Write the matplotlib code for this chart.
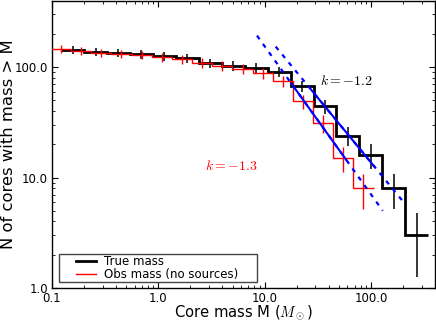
import numpy as np
import matplotlib
matplotlib.use("Agg")
import matplotlib.pyplot as plt
from matplotlib.ticker import FormatStrFormatter, LogLocator
from matplotlib.lines import Line2D
from matplotlib.legend_handler import HandlerLine2D

plt.rcParams['mathtext.fontset'] = 'cm'

# true core masses: bin centres (Msun) and number of cores above
true_m = [0.156, 0.257, 0.422, 0.694, 1.14, 1.88, 3.08, 5.06,
          8.32, 13.7, 22.5, 36.9, 60.7, 99.7, 164, 269]
true_n = [142, 137, 134, 130, 125, 120, 108, 103, 98, 90, 67, 44, 24, 16, 8, 3]

# observed masses (no sources)
obs_m = [0.122, 0.188, 0.291, 0.450, 0.697, 1.08, 1.67, 2.58,
         4.00, 6.19, 9.58, 14.8, 22.9, 35.5, 54.9, 85.0]
obs_n = [145, 140, 135, 132, 129, 123, 117, 109, 103, 96, 88, 75, 49, 31, 15, 8]

# power law fits  N = n_lo * (M / fit_lo)**k   (true, obs)
fit_k = [-1.17, -1.34]
fit_n_lo = [61.7, 70.6]
fit_lo = [27.6, 17.9]
fit_hi = [108.0, 58.9]
ext_lo = [12.7, 8.47]
ext_hi = [206.0, 129.0]
fit_text = ['$k=-1.2$', '$k=-1.3$']
text_pos = [(33.3, 75.0), (2.73, 12.7)]
text_col = ['k', 'red']


def edges(m):
    lm = np.log10(m)
    mid = (lm[1:] + lm[:-1]) / 2
    e = np.concatenate([[2 * lm[0] - mid[0]], mid, [2 * lm[-1] - mid[-1]]])
    return 10 ** e


fig = plt.figure(figsize=(4.36, 3.22), dpi=100)
ax = fig.add_axes([52 / 436, 34 / 322, 383 / 436, 287.5 / 322])

ax.stairs(true_n, edges(np.array(true_m)), baseline=None, color='k', lw=2.0, zorder=2)
ax.errorbar(true_m, true_n, yerr=np.sqrt(true_n), fmt='none', ecolor='k',
            elinewidth=1.1, capsize=0, zorder=2)
ax.stairs(obs_n, edges(np.array(obs_m)), baseline=None, color='red', lw=1.0, zorder=3)
ax.errorbar(obs_m, obs_n, yerr=np.sqrt(obs_n), fmt='none', ecolor='red',
            elinewidth=1.0, capsize=0, zorder=3)

for k, n0, lo, hi, elo, ehi in zip(fit_k, fit_n_lo, fit_lo, fit_hi, ext_lo, ext_hi):
    xs = np.array([lo, hi])
    ax.plot(xs, n0 * (xs / lo) ** k, color='blue', lw=1.5, zorder=4)
    xd = np.array([elo, ehi])
    ax.plot(xd, n0 * (xd / lo) ** k, color='blue', lw=1.6, zorder=4,
            linestyle=(0, (2.0, 2.6)))

for txt, (tx, ty), c in zip(fit_text, text_pos, text_col):
    ax.text(tx, ty, txt, color=c, fontsize=10, ha='left', va='center', zorder=5)

ax.set_xscale('log')
ax.set_yscale('log')
ax.set_xlim(0.1, 400)
ax.set_ylim(1, 400)
ax.xaxis.set_major_locator(LogLocator(base=10))
ax.yaxis.set_major_locator(LogLocator(base=10))
ax.xaxis.set_major_formatter(FormatStrFormatter('%.1f'))
ax.yaxis.set_major_formatter(FormatStrFormatter('%.1f'))
ax.xaxis.set_minor_formatter(FormatStrFormatter(''))
ax.yaxis.set_minor_formatter(FormatStrFormatter(''))
ax.tick_params(which='both', direction='in', top=True, right=True, labelsize=8.5)
ax.tick_params(which='major', length=4, width=0.8, pad=3)
ax.tick_params(which='minor', length=2, width=0.6)
for s in ax.spines.values():
    s.set_linewidth(1.0)

ax.set_xlabel(r'Core mass M ($M_\odot$)', fontsize=10.6, labelpad=-1)
ax.set_ylabel('N of cores with mass > M', fontsize=11.8, labelpad=-1.2)

handles = [Line2D([], [], color='k', lw=2.0), Line2D([], [], color='red', lw=1.0)]
leg = ax.legend(handles, ['True mass', 'Obs mass (no sources)'],
                loc='lower left', bbox_to_anchor=(0.0175, 0.0198, 0.517, 0.2),
                mode='expand', borderaxespad=0, fontsize=8.5, fancybox=False,
                framealpha=1, edgecolor='#444444', borderpad=0.1, labelspacing=0.0,
                handlelength=3.1, handletextpad=0.6,
                handler_map={Line2D: HandlerLine2D(xpad=1.35)})
leg.get_frame().set_linewidth(1.0)

fig.savefig('out.png', dpi=100)
